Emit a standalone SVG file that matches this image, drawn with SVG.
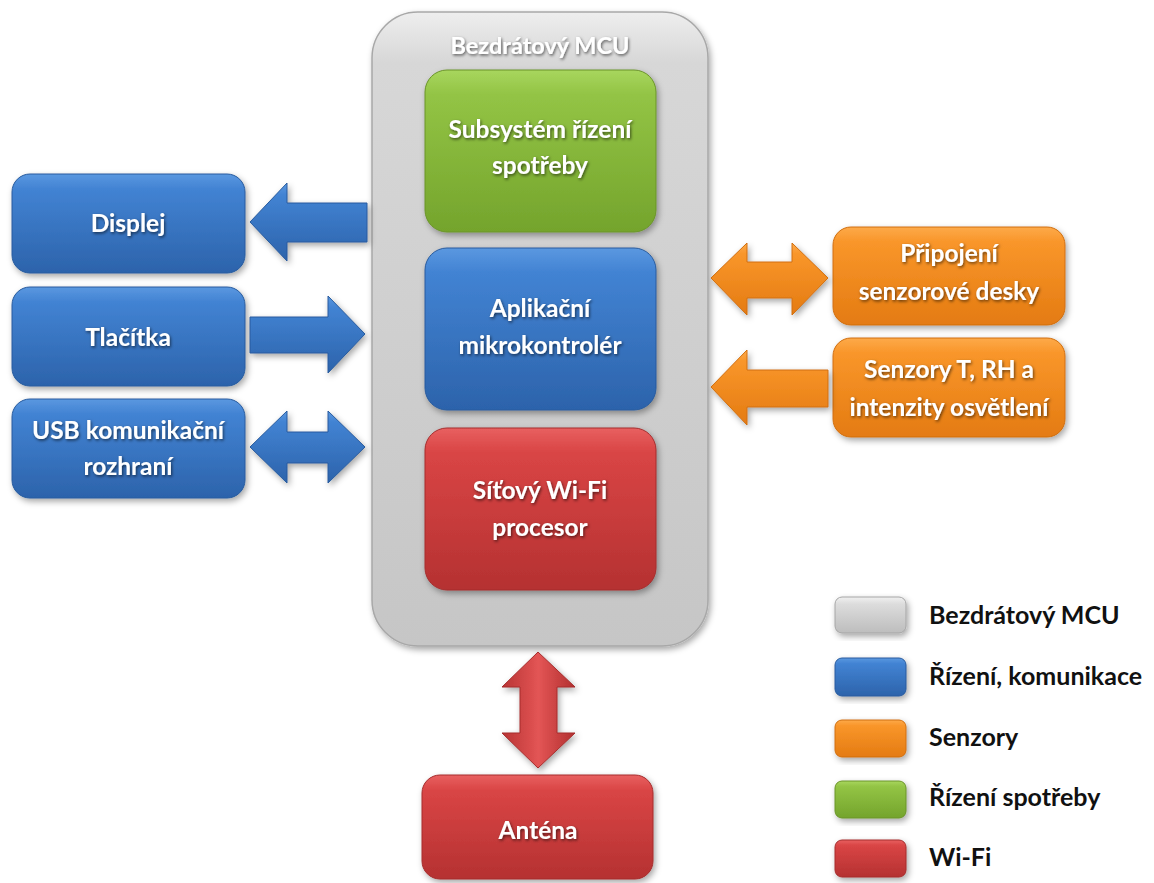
<svg xmlns="http://www.w3.org/2000/svg" width="1154" height="883" viewBox="0 0 1154 883">
<defs>
<linearGradient id="gGray" x1="0" y1="0" x2="0" y2="1"><stop offset="0" stop-color="#eeeeee"/><stop offset="0.08" stop-color="#d7d7d7"/><stop offset="1" stop-color="#c6c6c6"/></linearGradient>
<linearGradient id="gBlue" x1="0" y1="0" x2="0" y2="1"><stop offset="0" stop-color="#5b98e0"/><stop offset="0.15" stop-color="#4283d3"/><stop offset="1" stop-color="#2c63ab"/></linearGradient>
<linearGradient id="gGreen" x1="0" y1="0" x2="0" y2="1"><stop offset="0" stop-color="#a8d65e"/><stop offset="0.15" stop-color="#93c445"/><stop offset="1" stop-color="#74a42c"/></linearGradient>
<linearGradient id="gRed" x1="0" y1="0" x2="0" y2="1"><stop offset="0" stop-color="#e86060"/><stop offset="0.15" stop-color="#d94545"/><stop offset="1" stop-color="#b53131"/></linearGradient>
<linearGradient id="gOrange" x1="0" y1="0" x2="0" y2="1"><stop offset="0" stop-color="#fdaa4a"/><stop offset="0.15" stop-color="#f9962a"/><stop offset="1" stop-color="#e47b12"/></linearGradient>
<linearGradient id="gLGray" x1="0" y1="0" x2="0" y2="1"><stop offset="0" stop-color="#f0f0f0"/><stop offset="0.2" stop-color="#dcdcdc"/><stop offset="1" stop-color="#bdbdbd"/></linearGradient>
<linearGradient id="gRedV" x1="0" y1="0" x2="1" y2="0"><stop offset="0" stop-color="#b83434"/><stop offset="0.5" stop-color="#e35555"/><stop offset="1" stop-color="#b23030"/></linearGradient>
<filter id="sh" x="-10%" y="-10%" width="125%" height="130%"><feDropShadow dx="2" dy="3" stdDeviation="3" flood-color="#000" flood-opacity="0.35"/></filter>
<filter id="ts" x="-10%" y="-30%" width="120%" height="160%"><feDropShadow dx="1" dy="1.5" stdDeviation="1.5" flood-color="#000" flood-opacity="0.6"/></filter>
</defs>
<style>
.t{font-family:Lato,"Open Sans","Liberation Sans",sans-serif;font-weight:bold;font-size:24.5px;fill:#fff;text-anchor:middle}
.h{font-size:23.5px}
.lg{font-family:Lato,"Open Sans","Liberation Sans",sans-serif;font-weight:bold;font-size:25px;fill:#111}
</style>
<rect width="1154" height="883" fill="#fff"/>

<g id="mcu">
<rect x="372" y="12" width="336" height="634" rx="46" fill="url(#gGray)" stroke="#a8a8a8" stroke-width="1.5" filter="url(#sh)"/>
<text class="t h" x="540" y="54" filter="url(#ts)">Bezdrátový MCU</text>
</g>
<g id="power">
<rect x="425" y="70" width="231" height="162" rx="22" fill="url(#gGreen)" stroke="#6a9428" filter="url(#sh)"/>
<text class="t" x="540" y="138" filter="url(#ts)">Subsystém řízení</text>
<text class="t" x="540" y="174" filter="url(#ts)">spotřeby</text>
</g>
<g id="app">
<rect x="425" y="248" width="231" height="162" rx="22" fill="url(#gBlue)" stroke="#285b9e" filter="url(#sh)"/>
<text class="t" x="540" y="317" filter="url(#ts)">Aplikační</text>
<text class="t" x="540" y="354" filter="url(#ts)">mikrokontrolér</text>
</g>
<g id="wifi">
<rect x="425" y="428" width="231" height="162" rx="22" fill="url(#gRed)" stroke="#a52d2d" filter="url(#sh)"/>
<text class="t" x="540" y="499" filter="url(#ts)">Síťový Wi-Fi</text>
<text class="t" x="540" y="536" filter="url(#ts)">procesor</text>
</g>
<g id="displej">
<rect x="12" y="174" width="233" height="99" rx="18" fill="url(#gBlue)" stroke="#285b9e" filter="url(#sh)"/>
<text class="t" x="128" y="232" filter="url(#ts)">Displej</text>
</g>
<g id="tlacitka">
<rect x="12" y="287" width="233" height="99" rx="18" fill="url(#gBlue)" stroke="#285b9e" filter="url(#sh)"/>
<text class="t" x="128" y="346" filter="url(#ts)">Tlačítka</text>
</g>
<g id="usb">
<rect x="12" y="399" width="233" height="99" rx="18" fill="url(#gBlue)" stroke="#285b9e" filter="url(#sh)"/>
<text class="t" x="128" y="439" filter="url(#ts)">USB komunikační</text>
<text class="t" x="128" y="475" filter="url(#ts)">rozhraní</text>
</g>
<g id="pripojeni">
<rect x="833" y="227" width="232" height="98" rx="18" fill="url(#gOrange)" stroke="#d06e10" filter="url(#sh)"/>
<text class="t" x="949" y="262" filter="url(#ts)">Připojení</text>
<text class="t" x="949" y="300" filter="url(#ts)">senzorové desky</text>
</g>
<g id="senzory">
<rect x="833" y="338" width="232" height="99" rx="18" fill="url(#gOrange)" stroke="#d06e10" filter="url(#sh)"/>
<text class="t" x="949" y="378" filter="url(#ts)">Senzory T, RH a</text>
<text class="t" x="949" y="416" filter="url(#ts)">intenzity osvětlení</text>
</g>
<g id="antena">
<rect x="422" y="775" width="231" height="104" rx="18" fill="url(#gRed)" stroke="#a52d2d" filter="url(#sh)"/>
<text class="t" x="538" y="839" filter="url(#ts)">Anténa</text>
</g>

<g id="connectors">
<polygon points="250,222 287,183 287,203 367,203 367,242 287,242 287,261" fill="url(#gBlue)" stroke="#285b9e" filter="url(#sh)"/>
<polygon points="250,317 328,317 328,296 365,334 328,373 328,353 250,353" fill="url(#gBlue)" stroke="#285b9e" filter="url(#sh)"/>
<polygon points="250,447 287,411 287,432 328,432 328,411 365,447 328,483 328,463 287,463 287,483" fill="url(#gBlue)" stroke="#285b9e" filter="url(#sh)"/>
<polygon points="711,278 747,243 747,262 792,262 792,243 828,278 792,315 792,298 747,298 747,315" fill="url(#gOrange)" stroke="#d06e10" filter="url(#sh)"/>
<polygon points="711,387 747,350 747,370 828,370 828,407 747,407 747,425" fill="url(#gOrange)" stroke="#d06e10" filter="url(#sh)"/>
<polygon points="538,652 575,687 557,687 557,733 575,733 538,768 502,733 520,733 520,687 502,687" fill="url(#gRedV)" stroke="#a52d2d" filter="url(#sh)"/>
</g>

<g id="legend">
<rect x="835" y="597" width="71" height="36" rx="7" fill="url(#gLGray)" stroke="#a5a5a5" filter="url(#sh)"/>
<text class="lg" x="929" y="624">Bezdrátový MCU</text>
<rect x="835" y="658" width="71" height="38" rx="7" fill="url(#gBlue)" stroke="#285b9e" filter="url(#sh)"/>
<text class="lg" x="929" y="685">Řízení, komunikace</text>
<rect x="835" y="720" width="71" height="37" rx="7" fill="url(#gOrange)" stroke="#d06e10" filter="url(#sh)"/>
<text class="lg" x="929" y="746">Senzory</text>
<rect x="835" y="781" width="71" height="37" rx="7" fill="url(#gGreen)" stroke="#6a9428" filter="url(#sh)"/>
<text class="lg" x="929" y="806">Řízení spotřeby</text>
<rect x="835" y="840" width="71" height="37" rx="7" fill="url(#gRed)" stroke="#a52d2d" filter="url(#sh)"/>
<text class="lg" x="929" y="866">Wi-Fi</text>
</g>
</svg>
